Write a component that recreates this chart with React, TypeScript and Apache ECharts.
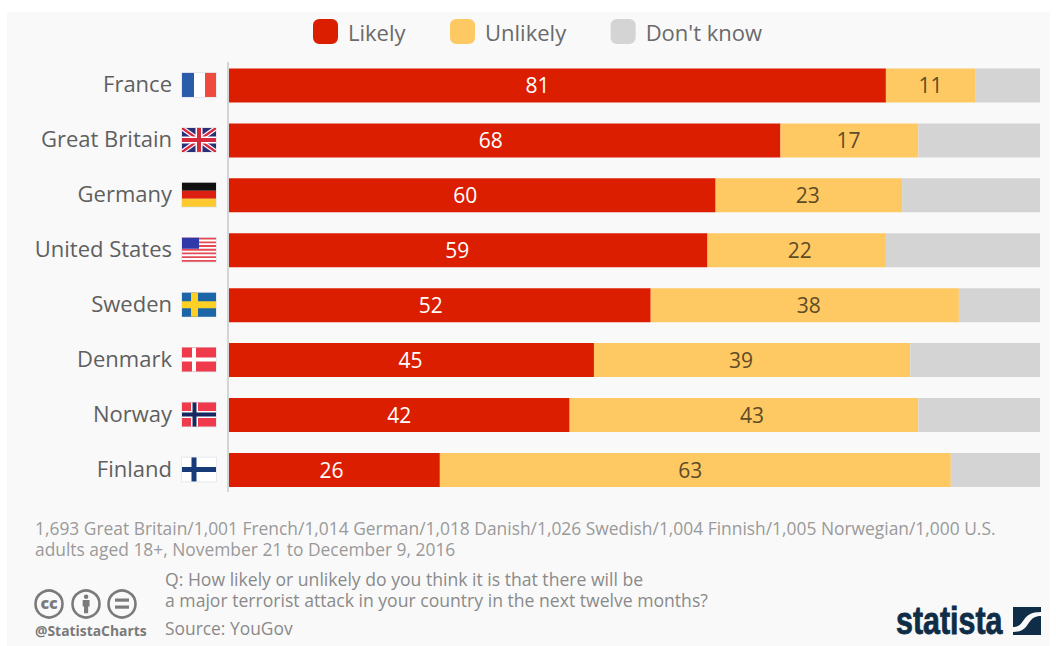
import React, { useEffect, useRef } from "react";
import * as echarts from "echarts";

const countries = ["France", "Great Britain", "Germany", "United States", "Sweden", "Denmark", "Norway", "Finland"];
const likely = [81, 68, 60, 59, 52, 45, 42, 26];
const unlikely = [11, 17, 23, 22, 38, 39, 43, 63];
const dontKnow = [8, 15, 17, 19, 10, 16, 15, 11];

// Horizontal nudges of the value labels away from the segment centres, in pixels.
const likelyLabelNudge = [-20, -14, -7, -11, -9, -1, 0, -3];
const unlikelyLabelNudge = [0, -1, -1, 3, 4, -11, 8, -5];

const FONT = "'Open Sans', sans-serif";
const NAVY = "#0f2d46";

echarts.graphic.registerShape(
  "statistaMark",
  echarts.graphic.extendPath(
    "M0 0H28V5C18 5 14 8 10 14C7 19 4 20 0 20ZM28 9V28H0V25C8 25 12 22 15 17C19 11 22 9 28 9Z",
    {}
  )
);
echarts.graphic.registerShape(
  "personGlyph",
  echarts.graphic.extendPath(
    "M4 0A2 2 0 1 1 4 4A2 2 0 1 1 4 0ZM1 5H7V11H5.8V17H2.2V11H1Z",
    {}
  )
);

type Piece = { type: string; shape: any; style: any };
const box = (x: number, y: number, w: number, h: number, fill: string): Piece => ({
  type: "rect",
  shape: { x, y, width: w, height: h },
  style: { fill },
});
const poly = (points: number[][], fill: string): Piece => ({
  type: "polygon",
  shape: { points },
  style: { fill },
});
const nordic = (bg: string, cross: string, inner?: string): Piece[] => {
  const pieces = [box(0, 0, 34, 24, bg), box(0, 8.5, 34, 7, cross), box(9, 0, 7, 24, cross)];
  if (inner) pieces.push(box(0, 10, 34, 4, inner), box(10.5, 0, 4, 24, inner));
  return pieces;
};

// Flag artwork in a 34 x 24 box, placed beside each category by the flag series.
const flagPieces: Record<string, () => Piece[]> = {
  France: () => [box(0, 0, 12, 24, "#2a5caa"), box(12, 0, 11, 24, "#ffffff"), box(23, 0, 11, 24, "#ee4b3e")],
  "Great Britain": () => [
    box(0, 0, 34, 24, "#2b2f78"),
    poly([[0, 0], [4, 0], [34, 21], [34, 24], [30, 24], [0, 3]], "#ffffff"),
    poly([[34, 0], [30, 0], [0, 21], [0, 24], [4, 24], [34, 3]], "#ffffff"),
    poly([[0, 0], [2, 0], [34, 22.5], [34, 24], [32, 24], [0, 1.5]], "#d8283c"),
    poly([[34, 0], [32, 0], [0, 22.5], [0, 24], [2, 24], [34, 1.5]], "#d8283c"),
    box(0, 8.5, 34, 7, "#ffffff"),
    box(13.5, 0, 7, 24, "#ffffff"),
    box(0, 10, 34, 4, "#d8283c"),
    box(15, 0, 4, 24, "#d8283c"),
  ],
  Germany: () => [box(0, 0, 34, 8, "#111111"), box(0, 8, 34, 8, "#dd1f12"), box(0, 16, 34, 8, "#fdc92e")],
  "United States": () => {
    const stripes: Piece[] = [box(0, 0, 34, 24, "#ffffff")];
    for (let i = 0; i < 13; i += 2) stripes.push(box(0, (i * 24) / 13, 34, 24 / 13, "#e44a55"));
    stripes.push(box(0, 0, 17, 11, "#3138a8"));
    return stripes;
  },
  Sweden: () => nordic("#1c65a6", "#fdd023"),
  Denmark: () => [box(0, 0, 34, 24, "#ee3a4a"), box(0, 10, 34, 4, "#ffffff"), box(10, 0, 4, 24, "#ffffff")],
  Norway: () => nordic("#ee3a4a", "#ffffff", "#16285f"),
  Finland: () => [box(0, 0, 34, 24, "#ffffff"), box(0, 9.5, 34, 5, "#173a78"), box(9.5, 0, 5, 24, "#173a78")],
};

const segmentData = (values: number[], nudges: number[]) =>
  values.map((value, i) => ({ value, label: { offset: [nudges[i], 0] } }));

const line = (y: number, x: number, text: string, fill: string, fontSize: number, fontWeight = 400) => ({
  type: "text",
  x,
  y,
  style: { text, fill, fontSize, fontWeight, fontFamily: FONT, lineHeight: 21, textVerticalAlign: "middle" },
});

const ccBadge = (cx: number) => ({
  type: "circle",
  shape: { cx, cy: 604, r: 13.5 },
  style: { fill: "none", stroke: "#7a7a7a", lineWidth: 2.6 },
});

export default function App() {
  const ref = useRef<HTMLDivElement>(null);

  useEffect(() => {
    const chart = echarts.init(ref.current!, undefined, { renderer: "svg" });
    chart.setOption({
      animation: false,
      backgroundColor: "#ffffff",
      grid: { left: 229, right: 16, top: 58, height: 439.4 },
      legend: {
        left: 313,
        top: 19,
        padding: 0,
        data: ["Likely", "Unlikely", "Don't know"],
        icon: "roundRect",
        itemWidth: 25,
        itemHeight: 25,
        itemGap: 44.5,
        textStyle: { color: "#6a6a6a", fontSize: 22, fontFamily: FONT, padding: [0, 0, 0, 5] },
      },
      xAxis: { type: "value", min: 0, max: 100, show: false },
      yAxis: {
        type: "category",
        inverse: true,
        data: countries,
        axisLine: { show: false },
        axisTick: { show: false },
        axisLabel: {
          color: "#5f5f5f",
          fontSize: 22,
          fontFamily: FONT,
          margin: 57,
          verticalAlign: "bottom",
          lineHeight: 4,
        },
      },
      series: [
        {
          name: "Likely",
          type: "bar",
          stack: "share",
          barWidth: 34,
          data: segmentData(likely, likelyLabelNudge),
          itemStyle: { color: "#dc1e00" },
          label: { show: true, position: "inside", color: "#ffffff", fontSize: 21, fontFamily: FONT },
        },
        {
          name: "Unlikely",
          type: "bar",
          stack: "share",
          barWidth: 34,
          data: segmentData(unlikely, unlikelyLabelNudge),
          itemStyle: { color: "#fec962" },
          label: { show: true, position: "inside", color: "#5e4c28", fontSize: 21, fontFamily: FONT },
        },
        {
          name: "Don't know",
          type: "bar",
          stack: "share",
          barWidth: 34,
          data: dontKnow,
          itemStyle: { color: "#d4d4d4" },
        },
        {
          name: "flags",
          type: "custom",
          silent: true,
          encode: { x: 0, y: 1 },
          data: countries.map((_, i) => [0, i]),
          renderItem: (params: any, api: any) => {
            const [x, y] = api.coord([0, api.value(1)]);
            return {
              type: "group",
              x: x - 47,
              y: y - 12.5,
              children: [box(-0.7, -0.7, 35.4, 25.4, "#dde1e7"), ...flagPieces[countries[params.dataIndex]]()],
            };
          },
        },
      ],
      graphic: [
        { type: "rect", z: -10, shape: { x: 7, y: 12, width: 1043, height: 634 }, style: { fill: "#f9f9f9" } },
        {
          type: "line",
          z: 10,
          shape: { x1: 228, y1: 62, x2: 228, y2: 492 },
          style: { stroke: "#c9c9c9", lineWidth: 1.5 },
        },
        line(
          538.5,
          35,
          "1,693 Great Britain/1,001 French/1,014 German/1,018 Danish/1,026 Swedish/1,004 Finnish/1,005 Norwegian/1,000 U.S.\nadults aged 18+, November 21 to December 9, 2016",
          "#9a9a9a",
          17.4
        ),
        line(
          589.5,
          165,
          "Q: How likely or unlikely do you think it is that there will be\na major terrorist attack in your country in the next twelve months?",
          "#8a8a8a",
          17.6
        ),
        line(628, 165, "Source: YouGov", "#8a8a8a", 17.4),
        line(630, 35, "@StatistaCharts", "#7a7a7a", 13.9, 700),
        ccBadge(49),
        ccBadge(86),
        ccBadge(122),
        {
          type: "text",
          x: 49,
          y: 603,
          style: {
            text: "cc",
            fill: "#7a7a7a",
            fontSize: 16,
            fontWeight: 800,
            fontFamily: FONT,
            textAlign: "center",
            textVerticalAlign: "middle",
          },
        },
        { type: "personGlyph", x: 81.5, y: 594.5, scaleX: 1.15, scaleY: 1.1, style: { fill: "#7a7a7a" } },
        { type: "rect", shape: { x: 115, y: 598.5, width: 14, height: 3.2 }, style: { fill: "#7a7a7a" } },
        { type: "rect", shape: { x: 115, y: 605.5, width: 14, height: 3.2 }, style: { fill: "#7a7a7a" } },
        {
          type: "text",
          x: 896,
          y: 621,
          scaleX: 0.8,
          style: {
            text: "statista",
            fill: NAVY,
            stroke: NAVY,
            lineWidth: 0.8,
            fontSize: 38,
            fontWeight: 700,
            fontFamily: "'Liberation Sans', sans-serif",
            textVerticalAlign: "middle",
          },
        },
        { type: "statistaMark", x: 1013, y: 607, style: { fill: NAVY } },
      ],
    });
    return () => chart.dispose();
  }, []);

  return <div ref={ref} style={{ position: "fixed", left: 0, top: 0, width: 1056, height: 646 }} />;
}
